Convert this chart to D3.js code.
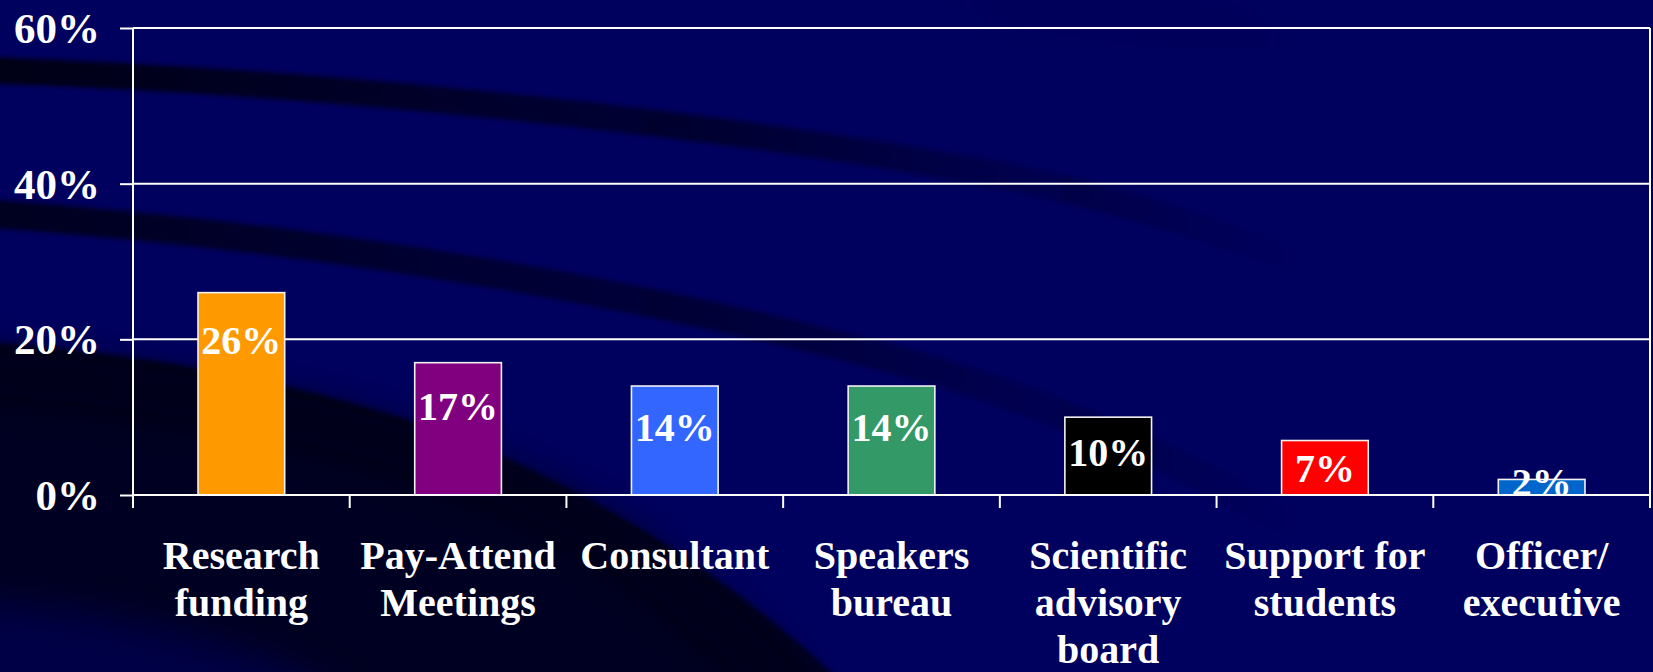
<!DOCTYPE html>
<html>
<head>
<meta charset="utf-8">
<script src="https://cdn.jsdelivr.net/npm/d3@7"></script>
<style>
  html, body { margin: 0; padding: 0; background: #00005e; overflow: hidden; }
  svg text { font-family: "Liberation Serif", "Times New Roman", serif; font-weight: bold; fill: #fff; }
</style>
</head>
<body>
<svg id="chart" width="1653" height="672"></svg>
<script>
"use strict";

// data
const categories = [
  ["Research", "funding"],
  ["Pay-Attend", "Meetings"],
  ["Consultant"],
  ["Speakers", "bureau"],
  ["Scientific", "advisory", "board"],
  ["Support for", "students"],
  ["Officer/", "executive"]
];
const values = [0.26, 0.17, 0.14, 0.14, 0.10, 0.07, 0.02];
const barColors = ["#ff9900", "#800080", "#3366ff", "#339966", "#000000", "#ff0000", "#0066cc"];
const yTicks = [0, 0.2, 0.4, 0.6];

const W = 1653, H = 672;
const plotLeft = 133, plotRight = 1650, plotTop = 28, plotBottom = 495;

const svg = d3.select("#chart");
const defs = svg.append("defs");

/*-- background swooshes ---------------------------------------------------*/
const fade = defs.append("linearGradient")
  .attr("id", "fade")
  .attr("gradientUnits", "userSpaceOnUse")
  .attr("x1", 0).attr("y1", 0).attr("x2", 1300).attr("y2", 0);
fade.append("stop").attr("offset", 0).attr("stop-color", "#000018").attr("stop-opacity", 1);
fade.append("stop").attr("offset", 0.5).attr("stop-color", "#000018").attr("stop-opacity", 0.65);
fade.append("stop").attr("offset", 1).attr("stop-color", "#000018").attr("stop-opacity", 0);

const soft = defs.append("filter").attr("id", "soft")
  .attr("x", "-20%").attr("y", "-20%").attr("width", "140%").attr("height", "140%");
soft.append("feGaussianBlur").attr("stdDeviation", 2);

const wide = defs.append("filter").attr("id", "wide")
  .attr("x", "-20%").attr("y", "-20%").attr("width", "140%").attr("height", "140%");
wide.append("feGaussianBlur").attr("stdDeviation", 18);

const bg = svg.append("g");
bg.append("rect").attr("width", W).attr("height", H).attr("fill", "#00005e");

// big dark area bottom left
bg.append("path")
  .attr("d", "M-40,340 C150,350 380,395 520,465 C640,520 760,600 860,700 L-40,700 Z")
  .attr("fill", "#00001c")
  .attr("opacity", 0.9)
  .attr("filter", "url(#soft)");
bg.append("path")
  .attr("d", "M-40,600 C100,610 250,640 350,700 L-40,720 Z")
  .attr("fill", "#00005e")
  .attr("opacity", 0.6)
  .attr("filter", "url(#wide)");
bg.append("path")
  .attr("d", "M-40,372 C180,385 400,430 560,510 C650,560 720,620 790,700")
  .attr("fill", "none")
  .attr("stroke", "#000010")
  .attr("stroke-width", 40)
  .attr("opacity", 0.6)
  .attr("filter", "url(#wide)");

// upper band
bg.append("path")
  .attr("d", "M-20,70 C300,80 700,120 1000,175 C1200,215 1350,280 1450,330")
  .attr("fill", "none")
  .attr("stroke", "url(#fade)")
  .attr("stroke-width", 26)
  .attr("filter", "url(#soft)");

// middle band
bg.append("path")
  .attr("d", "M-20,213 C300,235 650,290 950,375 C1150,440 1300,520 1400,600")
  .attr("fill", "none")
  .attr("stroke", "url(#fade)")
  .attr("stroke-width", 28)
  .attr("opacity", 0.85)
  .attr("filter", "url(#soft)");

// faint top right streak
bg.append("path")
  .attr("d", "M980,-5 C1080,5 1180,20 1260,40")
  .attr("fill", "none")
  .attr("stroke", "#000030")
  .attr("stroke-width", 22)
  .attr("opacity", 0.2)
  .attr("filter", "url(#wide)");

/*-- scales ---------------------------------------------------------------*/
const x = d3.scaleBand()
  .domain(d3.range(categories.length))
  .range([plotLeft, plotRight])
  .paddingInner(0.6)
  .paddingOuter(0.3);

const y = d3.scaleLinear().domain([0, 0.6]).range([plotBottom, plotTop]);

const chart = svg.append("g");

// grid lines
chart.append("g")
  .selectAll("line")
  .data(yTicks.filter(d => d > 0))
  .enter()
  .append("line")
  .attr("x1", plotLeft).attr("x2", plotRight)
  .attr("y1", d => y(d)).attr("y2", d => y(d))
  .attr("stroke", "#fff")
  .attr("stroke-width", 2);

// bars
chart.append("g")
  .selectAll("rect")
  .data(values)
  .enter()
  .append("rect")
  .attr("x", (d, i) => x(i))
  .attr("width", x.bandwidth())
  .attr("y", d => y(d))
  .attr("height", d => plotBottom - y(d))
  .attr("fill", (d, i) => barColors[i])
  .attr("stroke", "#f2f2f2")
  .attr("stroke-width", 1.6);

// value labels, sit lower in tall bars, close to the top in short ones
chart.append("g")
  .selectAll("text")
  .data(values)
  .enter()
  .append("text")
  .attr("x", (d, i) => x(i) + x.bandwidth() / 2)
  .attr("y", d => {
      const h = plotBottom - y(d);
      return y(d) + 62 * (1 - Math.exp(-h / 50));
  })
  .attr("text-anchor", "middle")
  .style("font-size", "40px")
  .text(d => d3.format(".0%")(d));

// y axis
const yAxis = chart.append("g")
  .attr("transform", `translate(${plotLeft},0)`)
  .call(d3.axisLeft(y).tickValues(yTicks).tickSize(13).tickPadding(20).tickFormat(d3.format(".0%")));
yAxis.select(".domain").remove();
yAxis.selectAll("line").attr("stroke", "#fff").attr("stroke-width", 2);
yAxis.selectAll("text")
  .attr("fill", "#fff")
  .attr("dy", "0.34em")
  .style("font-size", "43px")
  .style("font-family", "'Liberation Serif', serif")
  .style("font-weight", "bold");

// axis lines and category ticks
const bounds = d3.range(categories.length + 1).map(i => plotLeft + i * x.step());

chart.append("line")
  .attr("x1", plotLeft).attr("x2", plotRight)
  .attr("y1", plotBottom).attr("y2", plotBottom)
  .attr("stroke", "#fff").attr("stroke-width", 2);

chart.append("g")
  .selectAll("line")
  .data(bounds)
  .enter()
  .append("line")
  .attr("x1", d => d).attr("x2", d => d)
  .attr("y1", plotBottom).attr("y2", plotBottom + 13)
  .attr("stroke", "#fff").attr("stroke-width", 2);

chart.append("line")
  .attr("x1", plotLeft).attr("x2", plotLeft)
  .attr("y1", plotTop).attr("y2", plotBottom)
  .attr("stroke", "#fff").attr("stroke-width", 2);

chart.append("line")
  .attr("x1", plotRight).attr("x2", plotRight)
  .attr("y1", plotTop).attr("y2", plotBottom)
  .attr("stroke", "#fff").attr("stroke-width", 2);

// category labels
const catLabel = chart.append("g")
  .selectAll("text")
  .data(categories)
  .enter()
  .append("text")
  .attr("text-anchor", "middle")
  .attr("transform", (d, i) => `translate(${x(i) + x.bandwidth() / 2},569)`)
  .style("font-size", "40px");

catLabel.selectAll("tspan")
  .data(d => d)
  .enter()
  .append("tspan")
  .attr("x", 0)
  .attr("y", (d, i) => i * 47)
  .text(d => d);
</script>
</body>
</html>
